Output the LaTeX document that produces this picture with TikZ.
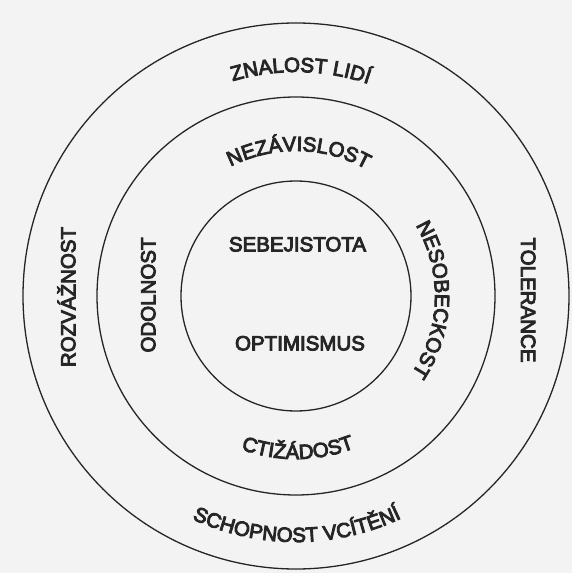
\documentclass[tikz,border=0pt]{standalone}
\usepackage{fontspec}
\newfontfamily\lbl[FakeBold=4.5]{Liberation Sans}
\usetikzlibrary{decorations.text}
\definecolor{ink}{HTML}{262626}
\definecolor{paper}{HTML}{F3F3F3}
\newcommand{\lblsize}{\lbl\fontsize{20.5}{24}\selectfont}
\begin{document}
\begin{tikzpicture}[x=1pt,y=1pt,
  ring/.style={circle, draw=ink, line width=1.3pt, inner sep=0pt, minimum size=#1},
  flat/.style={font=\lblsize, text=ink, text height=14.7pt, text depth=0pt, inner sep=0pt},
  curved/.style={decorate, decoration={text along path, text align=center,
      text color=ink, text={|\lblsize|#1}}}
  ]
\useasboundingbox[fill=paper] (-296,-277) rectangle (276,296);
\coordinate (c) at (0,0);
\node[ring=546pt] (outer) at (c) {};
\node[ring=398pt] (middle) at (c) {};
\node[ring=230pt] (inner) at (c) {};
% outer ring
\path[curved={ZNALOST LIDÍ}] (148.8:224) arc[start angle=148.8, end angle=28.8, radius=224];
\path[curved={SCHOPNOST VCÍTĚNÍ}] (-149.8:246) arc[start angle=-149.8, end angle=-29.8, radius=246];
\node[flat, rotate=90] (rozv) at (-228,-1) {ROZVÁŽNOST};
\node[flat, rotate=-90] (tol) at (232.5,-4) {TOLERANCE};
% middle ring
\path[curved={NEZÁVISLOST}] (148.9:145) arc[start angle=148.9, end angle=28.9, radius=145];
\path[curved={CTIŽÁDOST}] (-149.3:163) arc[start angle=-149.3, end angle=-29.3, radius=163];
\node[flat, rotate=90] (odol) at (-148,1) {ODOLNOST};
\path[curved={NESOBECKOST}] (58.4:139) arc[start angle=58.4, end angle=-61.6, radius=139];
% inner circle
\node[flat] (sebe) at (1.5,52) {SEBEJISTOTA};
\node[flat] (opti) at (4,-47) {OPTIMISMUS};
\end{tikzpicture}
\end{document}
